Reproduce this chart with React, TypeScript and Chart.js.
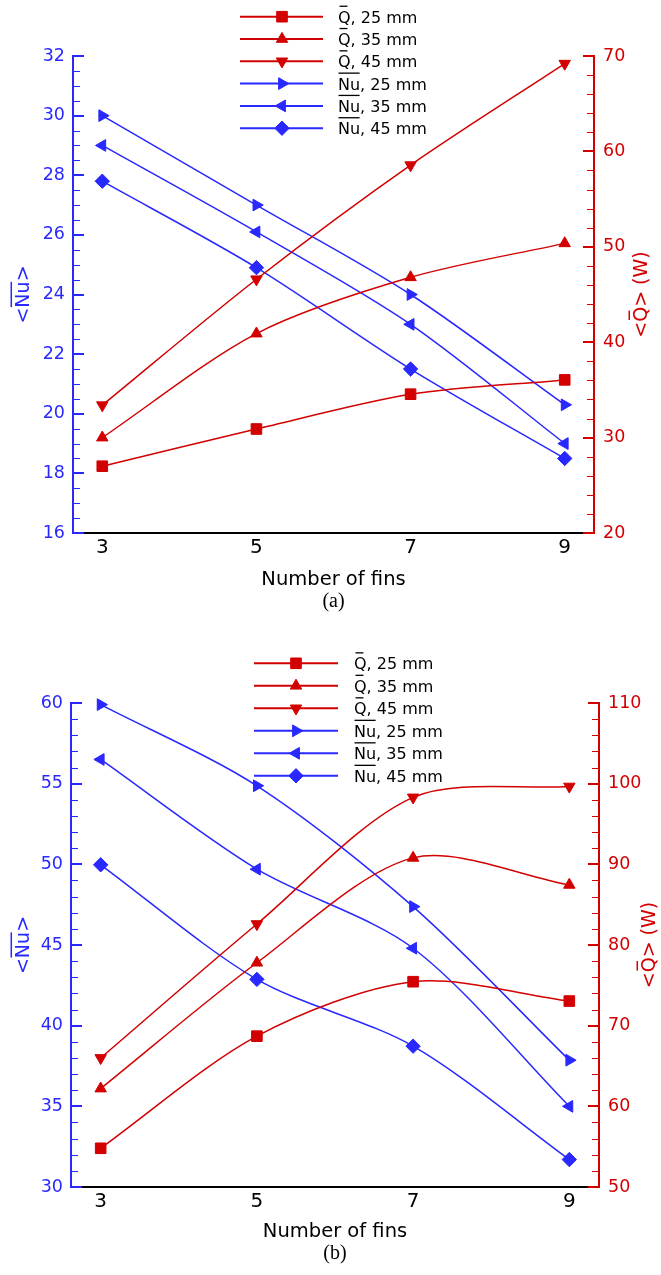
import React, { useEffect, useRef } from 'react';
import { Chart, registerables } from 'chart.js';

Chart.register(...registerables);

// ---------- data ----------
const fins = [3, 5, 7, 9];
const seriesNames = ['25 mm', '35 mm', '45 mm'];

// Panel (a)
const qA25 = [27.0, 30.9, 34.55, 36.05];
const qA35 = [30.0, 40.9, 46.8, 50.36];
const qA45 = [33.4, 46.6, 58.56, 69.2];
const nuA25 = [30.0, 27.0, 24.0, 20.3];
const nuA35 = [29.0, 26.1, 23.0, 19.0];
const nuA45 = [27.8, 24.9, 21.5, 18.5];

// Panel (b)
const qB25 = [54.8, 68.7, 75.45, 73.05];
const qB35 = [62.2, 77.8, 90.8, 87.45];
const qB45 = [66.0, 82.6, 98.3, 99.65];
const nuB25 = [59.9, 54.87, 47.38, 37.86];
const nuB35 = [56.5, 49.7, 44.8, 35.0];
const nuB45 = [49.97, 42.87, 38.73, 31.7];

const xTitle = 'Number of fins';

// ---------- style ----------
const FONT = "'DejaVu Sans', sans-serif";
const SERIF = "'Liberation Serif', 'Times New Roman', serif";
const BLUE = 'rgb(40,40,255)';
const RED = 'rgb(210,0,0)';
const W = 661;
const TENSION = 0.3;

type Marker = { style: string; rot: number; r: number };
const qMarkers: Marker[] = [
  { style: 'rect', rot: 0, r: 7.5 },
  { style: 'triangle', rot: 0, r: 6.6 },
  { style: 'triangle', rot: 180, r: 6.6 },
];
const nuMarkers: Marker[] = [
  { style: 'triangle', rot: 90, r: 6.8 },
  { style: 'triangle', rot: 270, r: 6.8 },
  { style: 'rectRot', rot: 0, r: 7.2 },
];

type Panel = {
  tag: string;
  height: number;
  left: number;
  right: number;
  top: number;
  bottom: number;
  xMin: number;
  xMax: number;
  q: number[][];
  nu: number[][];
  nuMin: number;
  nuMax: number;
  nuStep: number;
  nuMinor: number;
  qMin: number;
  qMax: number;
  qStep: number;
  qMinor: number;
  legX1: number;
  legX2: number;
  legMX: number;
  legTX: number;
  legY0: number;
  legDY: number;
  xTitleY: number;
  tagY: number;
  leftTitleX: number;
  rightTitleX: number;
};

const PANEL_A: Panel = {
  tag: '(a)',
  height: 637,
  left: 73,
  right: 594,
  top: 56,
  bottom: 533,
  xMin: 2.62,
  xMax: 9.38,
  q: [qA25, qA35, qA45],
  nu: [nuA25, nuA35, nuA45],
  nuMin: 16,
  nuMax: 32,
  nuStep: 2,
  nuMinor: 0.5,
  qMin: 20,
  qMax: 70,
  qStep: 10,
  qMinor: 2,
  legX1: 240,
  legX2: 323,
  legMX: 282,
  legTX: 338,
  legY0: 16.7,
  legDY: 22.3,
  xTitleY: 578,
  tagY: 602,
  leftTitleX: 22,
  rightTitleX: 640,
};

const PANEL_B: Panel = {
  tag: '(b)',
  height: 638,
  left: 71,
  right: 599,
  top: 66,
  bottom: 550,
  xMin: 2.62,
  xMax: 9.38,
  q: [qB25, qB35, qB45],
  nu: [nuB25, nuB35, nuB45],
  nuMin: 30,
  nuMax: 60,
  nuStep: 5,
  nuMinor: 1,
  qMin: 50,
  qMax: 110,
  qStep: 10,
  qMinor: 2,
  legX1: 254,
  legX2: 338,
  legMX: 296,
  legTX: 354,
  legY0: 26.3,
  legDY: 22.5,
  xTitleY: 593,
  tagY: 617,
  leftTitleX: 22,
  rightTitleX: 648,
};

// ---------- drawing helpers ----------
function drawMarker(ctx: CanvasRenderingContext2D, m: Marker, x: number, y: number, color: string) {
  ctx.save();
  ctx.fillStyle = color;
  ctx.strokeStyle = color;
  ctx.lineWidth = 1;
  ctx.beginPath();
  const r = m.r;
  if (m.style === 'rect') {
    const s = r * Math.SQRT1_2;
    ctx.rect(x - s, y - s, 2 * s, 2 * s);
  } else if (m.style === 'rectRot') {
    ctx.moveTo(x, y - r);
    ctx.lineTo(x + r, y);
    ctx.lineTo(x, y + r);
    ctx.lineTo(x - r, y);
    ctx.closePath();
  } else {
    let a = (m.rot * Math.PI) / 180;
    ctx.moveTo(x + Math.sin(a) * r, y - Math.cos(a) * r);
    a += (2 * Math.PI) / 3;
    ctx.lineTo(x + Math.sin(a) * r, y - Math.cos(a) * r);
    a += (2 * Math.PI) / 3;
    ctx.lineTo(x + Math.sin(a) * r, y - Math.cos(a) * r);
    ctx.closePath();
  }
  ctx.fill();
  ctx.stroke();
  ctx.restore();
}

type Part = { t: string; over?: 'full' | 'short' };

function partsWidth(ctx: CanvasRenderingContext2D, parts: Part[]) {
  return parts.reduce((s, p) => s + ctx.measureText(p.t).width, 0);
}

function drawParts(
  ctx: CanvasRenderingContext2D,
  parts: Part[],
  x: number,
  baseline: number,
  size: number,
  color: string,
  gapFactor: number
) {
  ctx.fillStyle = color;
  ctx.strokeStyle = color;
  ctx.textAlign = 'left';
  ctx.textBaseline = 'alphabetic';
  let cx = x;
  const capH = 0.729 * size;
  const oy = baseline - capH - gapFactor * size;
  for (const p of parts) {
    ctx.fillText(p.t, cx, baseline);
    const w = ctx.measureText(p.t).width;
    if (p.over) {
      ctx.lineWidth = Math.max(1.3, size * 0.08);
      ctx.beginPath();
      if (p.over === 'full') {
        ctx.moveTo(cx + 0.5, oy);
        ctx.lineTo(cx + w - 0.5, oy);
      } else {
        ctx.moveTo(cx + w * 0.12, oy);
        ctx.lineTo(cx + w * 0.75, oy);
      }
      ctx.stroke();
    }
    cx += w;
  }
}

function drawAxisTicks(
  ctx: CanvasRenderingContext2D,
  scale: any,
  x: number,
  dir: number,
  min: number,
  max: number,
  minor: number,
  major: number,
  color: string
) {
  ctx.save();
  ctx.strokeStyle = color;
  const n = Math.round((max - min) / minor);
  for (let i = 0; i <= n; i++) {
    const v = min + i * minor;
    const isMajor = Math.abs(v / major - Math.round(v / major)) < 1e-6;
    const lw = isMajor ? 2 : 1;
    let y = Math.round(scale.getPixelForValue(v));
    if (lw === 1) y += 0.5;
    ctx.lineWidth = lw;
    ctx.beginPath();
    ctx.moveTo(x, y);
    ctx.lineTo(x + dir * (isMajor ? 11 : 7), y);
    ctx.stroke();
  }
  ctx.restore();
}

function makeOverlay(panel: Panel) {
  return {
    id: 'overlay' + panel.tag,
    afterDraw(chart: any) {
      const ctx: CanvasRenderingContext2D = chart.ctx;
      const area = chart.chartArea;
      const yL = chart.scales.yL;
      const yR = chart.scales.yR;
      drawAxisTicks(ctx, yL, area.left, 1, panel.nuMin, panel.nuMax, panel.nuMinor, panel.nuStep, BLUE);
      drawAxisTicks(ctx, yR, area.right, -1, panel.qMin, panel.qMax, panel.qMinor, panel.qStep, RED);

      ctx.save();
      // legend
      const lsize = 16;
      ctx.font = `${lsize}px ${FONT}`;
      const entries = [
        ...seriesNames.map((n, i) => ({ color: RED, m: qMarkers[i], parts: [{ t: 'Q', over: 'short' as const }, { t: ', ' + n }] })),
        ...seriesNames.map((n, i) => ({ color: BLUE, m: nuMarkers[i], parts: [{ t: 'Nu', over: 'full' as const }, { t: ', ' + n }] })),
      ];
      entries.forEach((e, i) => {
        const y = panel.legY0 + i * panel.legDY;
        ctx.strokeStyle = e.color;
        ctx.lineWidth = 2;
        ctx.beginPath();
        ctx.moveTo(panel.legX1, y);
        ctx.lineTo(panel.legX2, y);
        ctx.stroke();
        drawMarker(ctx, e.m, panel.legMX, y, e.color);
        drawParts(ctx, e.parts, panel.legTX, y + 6, lsize, '#000', 0.3);
      });

      // x title
      const tsize = 19.5;
      ctx.font = `${tsize}px ${FONT}`;
      ctx.fillStyle = '#000';
      ctx.textAlign = 'center';
      ctx.textBaseline = 'alphabetic';
      const cxMid = (area.left + area.right) / 2;
      ctx.fillText(xTitle, cxMid, panel.xTitleY + (0.729 * tsize) / 2);

      // tag
      ctx.font = `20px ${SERIF}`;
      ctx.textBaseline = 'middle';
      ctx.fillText(panel.tag, cxMid, panel.tagY);

      // y titles (rotated)
      const ysize = 19;
      ctx.font = `${ysize}px ${FONT}`;
      const cy = (area.top + area.bottom) / 2;
      const leftParts: Part[] = [{ t: '<' }, { t: 'Nu', over: 'full' }, { t: '>' }];
      ctx.save();
      ctx.translate(panel.leftTitleX, cy);
      ctx.rotate(-Math.PI / 2);
      const lw = partsWidth(ctx, leftParts);
      drawParts(ctx, leftParts, -lw / 2, (0.729 * ysize) / 2, ysize, BLUE, 0.2);
      ctx.restore();

      const rightParts: Part[] = [{ t: '<' }, { t: 'Q', over: 'short' }, { t: '> (W)' }];
      ctx.save();
      ctx.translate(panel.rightTitleX, cy);
      ctx.rotate(-Math.PI / 2);
      const rw = partsWidth(ctx, rightParts);
      drawParts(ctx, rightParts, -rw / 2, (0.729 * ysize) / 2, ysize, RED, 0.2);
      ctx.restore();

      ctx.restore();
    },
  };
}

function makeDataset(label: string, arr: number[], color: string, m: Marker, axis: string) {
  return {
    label,
    data: fins.map((x, i) => ({ x, y: arr[i] })),
    yAxisID: axis,
    borderColor: color,
    backgroundColor: color,
    borderWidth: 1.5,
    pointStyle: m.style,
    pointRotation: m.rot,
    pointRadius: m.r,
    pointBorderWidth: 1,
    pointBackgroundColor: color,
    pointBorderColor: color,
    tension: TENSION,
    clip: false,
  };
}

function makeChart(canvas: HTMLCanvasElement, panel: Panel) {
  const datasets = [
    ...panel.q.map((arr, i) => makeDataset('Q, ' + seriesNames[i], arr, RED, qMarkers[i], 'yR')),
    ...panel.nu.map((arr, i) => makeDataset('Nu, ' + seriesNames[i], arr, BLUE, nuMarkers[i], 'yL')),
  ];
  return new Chart(canvas, {
    type: 'line',
    data: { datasets } as any,
    options: {
      responsive: false,
      maintainAspectRatio: false,
      animation: false,
      layout: { padding: { top: panel.top, left: 0, right: 0, bottom: 0 } },
      plugins: { legend: { display: false }, tooltip: { enabled: false } },
      scales: {
        x: {
          type: 'linear',
          min: panel.xMin,
          max: panel.xMax,
          afterBuildTicks: (s: any) => {
            s.ticks = fins.map((v) => ({ value: v }));
          },
          afterFit: (s: any) => {
            s.height = panel.height - panel.bottom;
          },
          ticks: { color: '#000', font: { family: FONT, size: 20 }, padding: 3, autoSkip: false, maxRotation: 0 },
          grid: { display: false, drawTicks: false },
          border: { display: true, color: '#000', width: 2 },
        },
        yL: {
          type: 'linear',
          position: 'left',
          min: panel.nuMin,
          max: panel.nuMax,
          afterFit: (s: any) => {
            s.width = panel.left;
          },
          ticks: { stepSize: panel.nuStep, color: BLUE, font: { family: FONT, size: 17.5 }, padding: 8 },
          grid: { display: false, drawTicks: false },
          border: { display: true, color: BLUE, width: 2 },
        },
        yR: {
          type: 'linear',
          position: 'right',
          min: panel.qMin,
          max: panel.qMax,
          afterFit: (s: any) => {
            s.width = W - panel.right;
          },
          ticks: { stepSize: panel.qStep, color: RED, font: { family: FONT, size: 17.5 }, padding: 9 },
          grid: { display: false, drawTicks: false },
          border: { display: true, color: RED, width: 2 },
        },
      },
    } as any,
    plugins: [makeOverlay(panel)],
  });
}

export default function App() {
  const refA = useRef<HTMLCanvasElement>(null);
  const refB = useRef<HTMLCanvasElement>(null);
  useEffect(() => {
    const a = makeChart(refA.current!, PANEL_A);
    const b = makeChart(refB.current!, PANEL_B);
    return () => {
      a.destroy();
      b.destroy();
    };
  }, []);
  return (
    <div style={{ position: 'absolute', left: 0, top: 0, width: W, height: 1275, background: '#fff' }}>
      <canvas
        ref={refA}
        width={W}
        height={PANEL_A.height}
        style={{ position: 'absolute', left: 0, top: 0, display: 'block' }}
      />
      <canvas
        ref={refB}
        width={W}
        height={PANEL_B.height}
        style={{ position: 'absolute', left: 0, top: PANEL_A.height, display: 'block' }}
      />
    </div>
  );
}
